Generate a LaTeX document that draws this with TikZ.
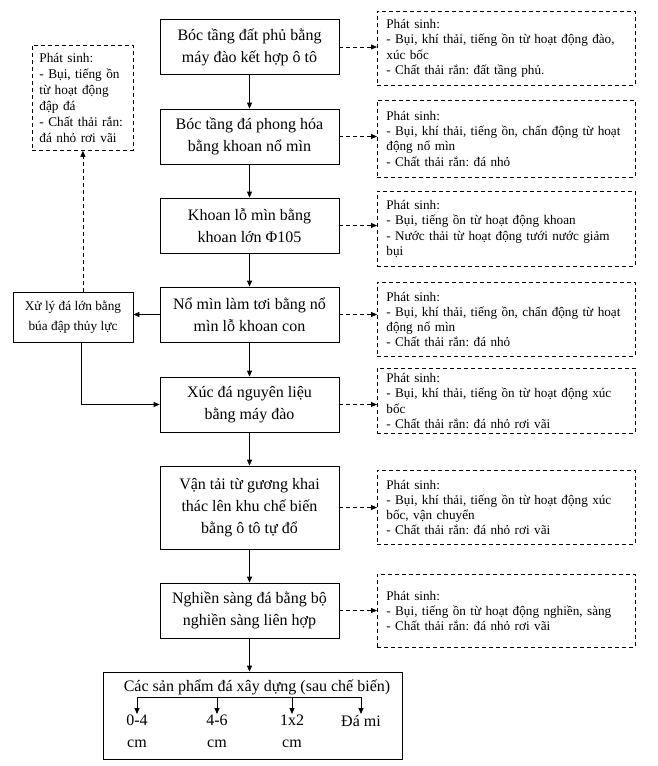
\documentclass[tikz,border=0pt]{standalone}
\usepackage{fontspec}
\setmainfont{Liberation Serif}
\usetikzlibrary{arrows.meta,calc}
\frenchspacing

\newcommand{\bigtxt}{\fontsize{16}{22}\selectfont}
\newcommand{\smalltxt}{\fontsize{13.2}{15.2}\selectfont}

\begin{document}
\begin{tikzpicture}[x=1pt, y=-1pt,
	arr/.style = {-{Triangle[length=6pt,width=5pt]}, line width=.8pt},
	darr/.style = {arr, dash pattern=on 4pt off 3pt},
	mainbox/.style = {draw, line width=.8pt, minimum width=179pt, minimum height=55pt, inner sep=0pt, align=center, font=\bigtxt},
	sidebox/.style = {draw, line width=.8pt, dash pattern=on 4pt off 3pt, anchor=north west, text width=240pt, inner xsep=9pt, inner ysep=0pt, align=left, font=\smalltxt}]
		\useasboundingbox (0,0) rectangle (658,766);
		%main steps
		\node[mainbox] (b1) at (249.5,47) {Bóc tầng đất phủ bằng\\máy đào kết hợp ô tô};
		\node[mainbox] (b2) at (249.5,136.5) {Bóc tầng đá phong hóa\\bằng khoan nổ mìn};
		\node[mainbox] (b3) at (249.5,225.5) {Khoan lỗ mìn bằng\\khoan lớn Φ105};
		\node[mainbox] (b4) at (249.5,314.5) {Nổ mìn làm tơi bằng nổ\\mìn lỗ khoan con};
		\node[mainbox] (b5) at (249.5,404.5) {Xúc đá nguyên liệu\\bằng máy đào};
		\node[mainbox, minimum height=83pt] (b6) at (249.5,507.5) {Vận tải từ gương khai\\thác lên khu chế biến\\bằng ô tô tự đổ};
		\node[mainbox] (b7) at (249.5,610.5) {Nghiền sàng đá bằng bộ\\nghiền sàng liên hợp};
		\foreach \a/\b in {b1/b2,b2/b3,b3/b4,b4/b5,b5/b6,b6/b7}
			\draw[arr] (\a) -- (\b);
		%waste boxes on the right
		\node[sidebox, minimum height=74pt] (sA) at (377,11) {Phát sinh:\\- Bụi, khí thải, tiếng ồn từ hoạt động đào,\\xúc bốc\\- Chất thải rắn: đất tầng phủ.};
		\node[sidebox, minimum height=77pt] (sB) at (377,100) {Phát sinh:\\- Bụi, khí thải, tiếng ồn, chấn động từ hoạt\\động nổ mìn\\- Chất thải rắn: đá nhỏ};
		\node[sidebox, minimum height=75pt] (sC) at (377,191) {Phát sinh:\\- Bụi, tiếng ồn từ hoạt động khoan\\- Nước thải từ hoạt động tưới nước giảm\\bụi};
		\node[sidebox, minimum height=74pt] (sD) at (377,282) {Phát sinh:\\- Bụi, khí thải, tiếng ồn, chấn động từ hoạt\\động nổ mìn\\- Chất thải rắn: đá nhỏ};
		\node[sidebox, minimum height=65pt] (sE) at (377,368) {Phát sinh:\\- Bụi, khí thải, tiếng ồn từ hoạt động xúc\\bốc\\- Chất thải rắn: đá nhỏ rơi vãi};
		\node[sidebox, minimum height=74pt] (sF) at (377,470) {Phát sinh:\\- Bụi, khí thải, tiếng ồn từ hoạt động xúc\\bốc, vận chuyển\\- Chất thải rắn: đá nhỏ rơi vãi};
		\node[sidebox, minimum height=73pt] (sG) at (377,574) {Phát sinh:\\- Bụi, tiếng ồn từ hoạt động nghiền, sàng\\- Chất thải rắn: đá nhỏ rơi vãi\\[6pt]};
		\foreach \a/\b in {b1/sA,b2/sB,b3/sC,b4/sD,b5/sE,b6/sF,b7/sG}
			\draw[darr] (\a.east) -- (\a.east -| \b.west);
		%oversize rock branch
		\node[draw, line width=.8pt, minimum width=120pt, minimum height=50pt, inner sep=0pt, align=center, font=\fontsize{13.3}{20}\selectfont] (xuly) at (73,317) {Xử lý đá lớn bằng\\búa đập thủy lực};
		\node[sidebox, text width=87pt, inner xsep=7pt, minimum height=105pt, font=\fontsize{13.3}{16}\selectfont] (sL) at (32,45) {Phát sinh:\\- Bụi, tiếng ồn\\từ hoạt động\\đập đá\\- Chất thải rắn:\\đá nhỏ rơi vãi};
		\draw[arr] (b4.west) -- (b4.west -| xuly.east);
		\draw[darr] (xuly.north -| sL.south) -- (sL.south);
		\draw[arr] ($(xuly.south -| sL.south)+(-2,0)$) |- (b5.west);
		%products
		\node[draw, line width=.8pt, minimum width=299pt, minimum height=87pt] (prod) at (252.5,715.5) {};
		\draw[arr] (b7.south) -- (b7.south |- prod.north);
		\node[font=\bigtxt, inner sep=0pt] (title) at (257,687) {Các sản phẩm đá xây dựng (sau chế biến)};
		\coordinate (bar) at (0,697);
		\node[font=\bigtxt, align=center, anchor=north, inner sep=1pt] (p1) at (137,714) {0-4\\cm};
		\node[font=\bigtxt, align=center, anchor=north, inner sep=1pt] (p2) at (217,714) {4-6\\cm};
		\node[font=\bigtxt, align=center, anchor=north, inner sep=1pt] (p3) at (292,714) {1x2\\cm};
		\node[font=\bigtxt, align=center, anchor=north, inner sep=1pt] (p4) at (361,714) {Đá mi};
		\draw[line width=.8pt] (p1.north |- bar) -- (p4.north |- bar);
		\foreach \p in {p1,p2,p3,p4}
			\draw[arr] (\p.north |- bar) -- (\p.north);
\end{tikzpicture}
\end{document}
